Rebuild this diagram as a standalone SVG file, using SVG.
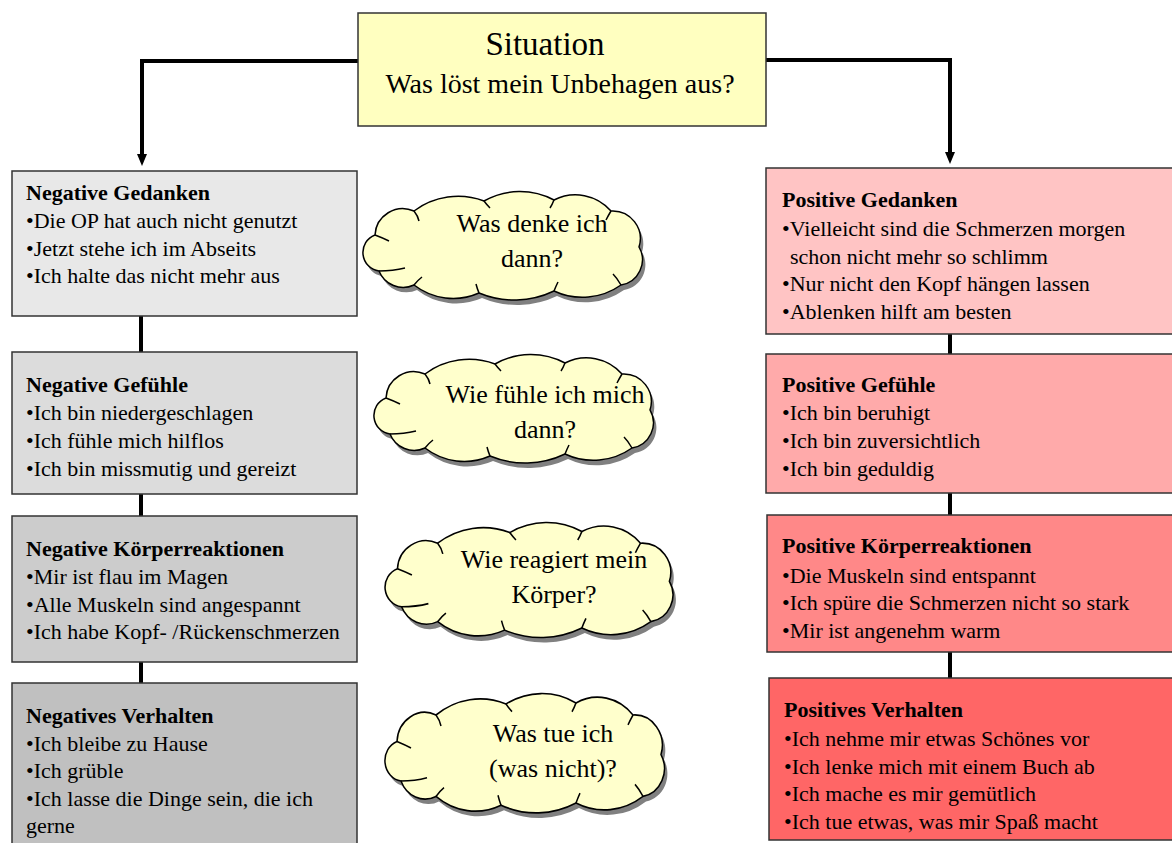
<svg xmlns="http://www.w3.org/2000/svg" width="1172" height="843" viewBox="0 0 1172 843">
<defs>
<style>
.box{stroke:#333;stroke-width:1.5}
.t{font-family:"Liberation Serif","Times New Roman",serif;font-size:22px;fill:#000}
.b{font-weight:bold}
.ct{font-family:"Liberation Serif","Times New Roman",serif;font-size:26px;fill:#000;text-anchor:middle}
.conn{stroke:#000;stroke-width:4;fill:none}
.cloud{fill:#ffffcc;stroke:#000;stroke-width:1.5}
.shadow{fill:#808080}
.inner{fill:none;stroke:#000;stroke-width:1.5}
</style>
<marker id="arr" viewBox="0 0 12 10" refX="0" refY="5" markerWidth="12" markerHeight="10" markerUnits="userSpaceOnUse" orient="auto">
<path d="M0,0 L12,5 L0,10 Z" fill="#000"/>
</marker>
<path id="cl" d="M20,80 A18.7,18.7 0 0 1 16,44 A27.8,27.8 0 0 1 55,20 A74,74 0 0 1 125,10 A72.6,72.6 0 0 1 195,9 A47,47 0 0 1 252,20 A27.7,27.7 0 0 1 280,56 A25.6,25.6 0 0 1 262,94 A67,67 0 0 1 195,100 A92,92 0 0 1 120,102 A64,64 0 0 1 55,94 A26,26 0 0 1 20,80 Z"/>
<path id="clin" d="M16,44 Q24,47 30,50 M55,20 Q59,25 60,30 M20,80 Q34,80 46,77 M55,94 Q59,89 63,86 M120,102 Q118,97 117,93 M195,100 Q197,95 199,91 M262,94 Q258,87 254,83 M252,20 Q249,25 247,29 M195,9 Q193,14 191,17 M125,10 Q128,14 131,17"/>
</defs>

<g id="connectors">
<polyline class="conn" points="358,61 142,61 142,154" marker-end="url(#arr)"/>
<polyline class="conn" points="766,60 950,60 950,152" marker-end="url(#arr)"/>
<line class="conn" x1="141" y1="316" x2="141" y2="352"/>
<line class="conn" x1="141" y1="494" x2="141" y2="516"/>
<line class="conn" x1="141" y1="662" x2="141" y2="683"/>
<line class="conn" x1="950" y1="334" x2="950" y2="354"/>
<line class="conn" x1="950" y1="493" x2="950" y2="515"/>
<line class="conn" x1="950" y1="652" x2="950" y2="678"/>
</g>

<g id="situation">
<rect class="box" x="358" y="13" width="408" height="113" fill="#ffffc0"/>
<text x="545" y="55" style="font-family:'Liberation Serif','Times New Roman',serif;font-size:33px;text-anchor:middle">Situation</text>
<text x="560" y="93" style="font-family:'Liberation Serif','Times New Roman',serif;font-size:28px;text-anchor:middle">Was löst mein Unbehagen aus?</text>
</g>

<g id="neg-gedanken">
<rect class="box" x="12" y="171" width="345" height="145" fill="#e8e8e8"/>
<text class="t" x="26" y="200"><tspan class="b">Negative Gedanken</tspan><tspan x="26" y="228">•Die OP hat auch nicht genutzt</tspan><tspan x="26" y="256">•Jetzt stehe ich im Abseits</tspan><tspan x="26" y="283">•Ich halte das nicht mehr aus</tspan></text>
</g>
<g id="neg-gefuehle">
<rect class="box" x="12" y="352" width="345" height="142" fill="#dcdcdc"/>
<text class="t" x="26" y="392"><tspan class="b">Negative Gefühle</tspan><tspan x="26" y="420">•Ich bin niedergeschlagen</tspan><tspan x="26" y="448">•Ich fühle mich hilflos</tspan><tspan x="26" y="476">•Ich bin missmutig und gereizt</tspan></text>
</g>
<g id="neg-koerper">
<rect class="box" x="12" y="516" width="345" height="146" fill="#cccccc"/>
<text class="t" x="26" y="556"><tspan class="b">Negative Körperreaktionen</tspan><tspan x="26" y="584">•Mir ist flau im Magen</tspan><tspan x="26" y="612">•Alle Muskeln sind angespannt</tspan><tspan x="26" y="639">•Ich habe Kopf- /Rückenschmerzen</tspan></text>
</g>
<g id="neg-verhalten">
<rect class="box" x="12" y="683" width="345" height="170" fill="#c0c0c0"/>
<text class="t" x="26" y="723"><tspan class="b">Negatives Verhalten</tspan><tspan x="26" y="751">•Ich bleibe zu Hause</tspan><tspan x="26" y="778">•Ich grüble</tspan><tspan x="26" y="806">•Ich lasse die Dinge sein, die ich</tspan><tspan x="26" y="833">gerne</tspan></text>
</g>

<g id="pos-gedanken">
<rect class="box" x="766" y="168" width="420" height="166" fill="#ffc4c4"/>
<text class="t" x="782" y="207"><tspan class="b">Positive Gedanken</tspan><tspan x="782" y="236">•Vielleicht sind die Schmerzen morgen</tspan><tspan x="790" y="264">schon nicht mehr so schlimm</tspan><tspan x="782" y="291">•Nur nicht den Kopf hängen lassen</tspan><tspan x="782" y="319">•Ablenken hilft am besten</tspan></text>
</g>
<g id="pos-gefuehle">
<rect class="box" x="766" y="354" width="420" height="139" fill="#ffaaaa"/>
<text class="t" x="782" y="392"><tspan class="b">Positive Gefühle</tspan><tspan x="782" y="420">•Ich bin beruhigt</tspan><tspan x="782" y="448">•Ich bin zuversichtlich</tspan><tspan x="782" y="476">•Ich bin geduldig</tspan></text>
</g>
<g id="pos-koerper">
<rect class="box" x="767" y="515" width="420" height="137" fill="#ff8888"/>
<text class="t" x="782" y="553"><tspan class="b">Positive Körperreaktionen</tspan><tspan x="782" y="583">•Die Muskeln sind entspannt</tspan><tspan x="782" y="610">•Ich spüre die Schmerzen nicht so stark</tspan><tspan x="782" y="638">•Mir ist angenehm warm</tspan></text>
</g>
<g id="pos-verhalten">
<rect class="box" x="769" y="678" width="420" height="162" fill="#ff6666"/>
<text class="t" x="784" y="717"><tspan class="b">Positives Verhalten</tspan><tspan x="784" y="746">•Ich nehme mir etwas Schönes vor</tspan><tspan x="784" y="774">•Ich lenke mich mit einem Buch ab</tspan><tspan x="784" y="801">•Ich mache es mir gemütlich</tspan><tspan x="784" y="829">•Ich tue etwas, was mir Spaß macht</tspan></text>
</g>

<g id="cloud-denken">
<use href="#cl" class="shadow" transform="translate(362,196)"/>
<use href="#cl" class="cloud" transform="translate(359,191)"/>
<use href="#clin" class="inner" transform="translate(359,191)"/>
<text class="ct" x="532" y="232">Was denke ich</text>
<text class="ct" x="532" y="267">dann?</text>
</g>
<g id="cloud-fuehlen">
<use href="#cl" class="shadow" transform="translate(373,359)"/>
<use href="#cl" class="cloud" transform="translate(370,354)"/>
<use href="#clin" class="inner" transform="translate(370,354)"/>
<text class="ct" x="545" y="403">Wie fühle ich mich</text>
<text class="ct" x="545" y="438">dann?</text>
</g>
<g id="cloud-koerper">
<use href="#cl" class="shadow" transform="translate(384,527) scale(1.03,1.06)"/>
<use href="#cl" class="cloud" transform="translate(381,522) scale(1.03,1.06)"/>
<use href="#clin" class="inner" transform="translate(381,522) scale(1.03,1.06)"/>
<text class="ct" x="554" y="568">Wie reagiert mein</text>
<text class="ct" x="554" y="603">Körper?</text>
</g>
<g id="cloud-tun">
<use href="#cl" class="shadow" transform="translate(384,698) scale(1,1.1)"/>
<use href="#cl" class="cloud" transform="translate(381,693) scale(1,1.1)"/>
<use href="#clin" class="inner" transform="translate(381,693) scale(1,1.1)"/>
<text class="ct" x="553" y="742">Was tue ich</text>
<text class="ct" x="553" y="777">(was nicht)?</text>
</g>
</svg>
